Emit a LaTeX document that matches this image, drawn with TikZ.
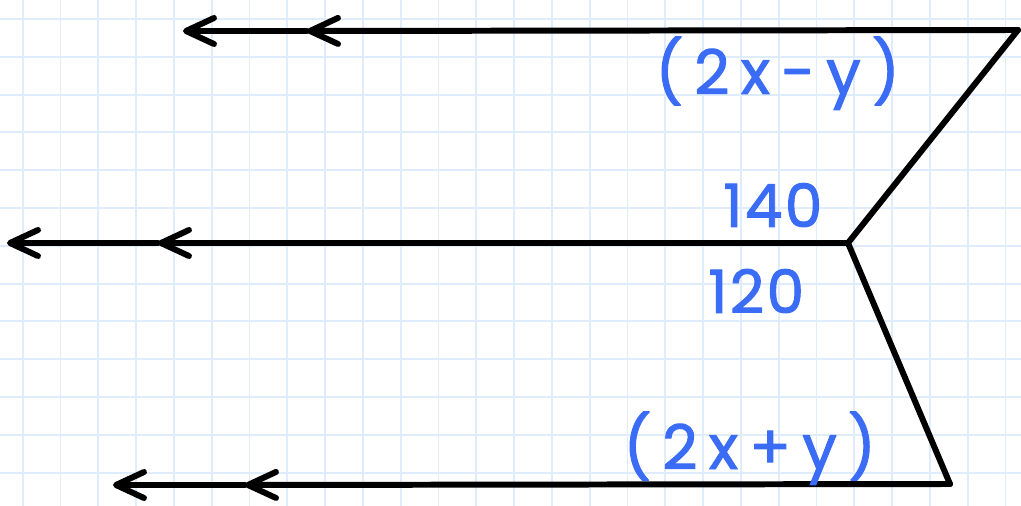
\documentclass[tikz,border=0pt]{standalone}
\usepackage{fontspec}
\newfontfamily\handfont[LetterSpace=18, FakeBold=1.6]{Poppins}
\newfontfamily\handdigits[LetterSpace=4, FakeBold=1.6]{Poppins}
\usetikzlibrary{arrows.meta}
\definecolor{gridblue}{RGB}{222,236,252}
\definecolor{inkblue}{RGB}{58,108,245}
\tikzset{
  rail/.style={line width=3.4pt},
  barb/.style={-{Straight Barb[length=0.56cm, width=0.52cm, round]}},
  gridline/.style={gridblue, line width=1.1pt},
  anglelabel/.style={inkblue, anchor=base west, inner sep=0pt},
}

\begin{document}
\begin{tikzpicture}[x=0.02cm, y=-0.02cm, line cap=round, line join=round]
  \useasboundingbox (0,0) rectangle (1021,506);
  \fill[white] (0,0) rectangle (1021,506);
  % squared paper
  \foreach \k in {0,...,26}
    \draw[gridline] ({22.7+37.8*\k},0) -- ({22.7+37.8*\k},506);
  \foreach \k in {0,...,13}
    \draw[gridline] (0,{19+37.8*\k}) -- (1021,{19+37.8*\k});
  % the three parallels and the bent transversal
  \coordinate (topR) at (1018,30);
  \coordinate (topM) at (307,31);
  \coordinate (topL) at (183,31);
  \coordinate (midV) at (848,243);
  \coordinate (midM) at (158,243);
  \coordinate (midL) at (7,243);
  \coordinate (botR) at (950,484);
  \coordinate (botM) at (245,485);
  \coordinate (botL) at (113,485);
  \draw[rail] (topR) -- (midV) -- (botR);
  \draw[rail, barb] (topR) -- (topM);
  \draw[rail, barb] (topM) -- (topL);
  \draw[rail, barb] (midV) -- (midM);
  \draw[rail, barb] (midM) -- (midL);
  \draw[rail, barb] (botR) -- (botM);
  \draw[rail, barb] (botM) -- (botL);
  % angle labels
  \node[anglelabel, font=\handfont\fontsize{35}{40}\selectfont] (upperExpr) at (655,94) {(2x-y)};
  \node[anglelabel, font=\handdigits\fontsize{34}{40}\selectfont] (upperAngle) at (723,227) {140};
  \node[anglelabel, font=\handdigits\fontsize{34}{40}\selectfont] (lowerAngle) at (708,313) {120};
  \node[anglelabel, font=\handfont\fontsize{35}{40}\selectfont] (lowerExpr) at (623,469) {(2x+y)};
\end{tikzpicture}
\end{document}
